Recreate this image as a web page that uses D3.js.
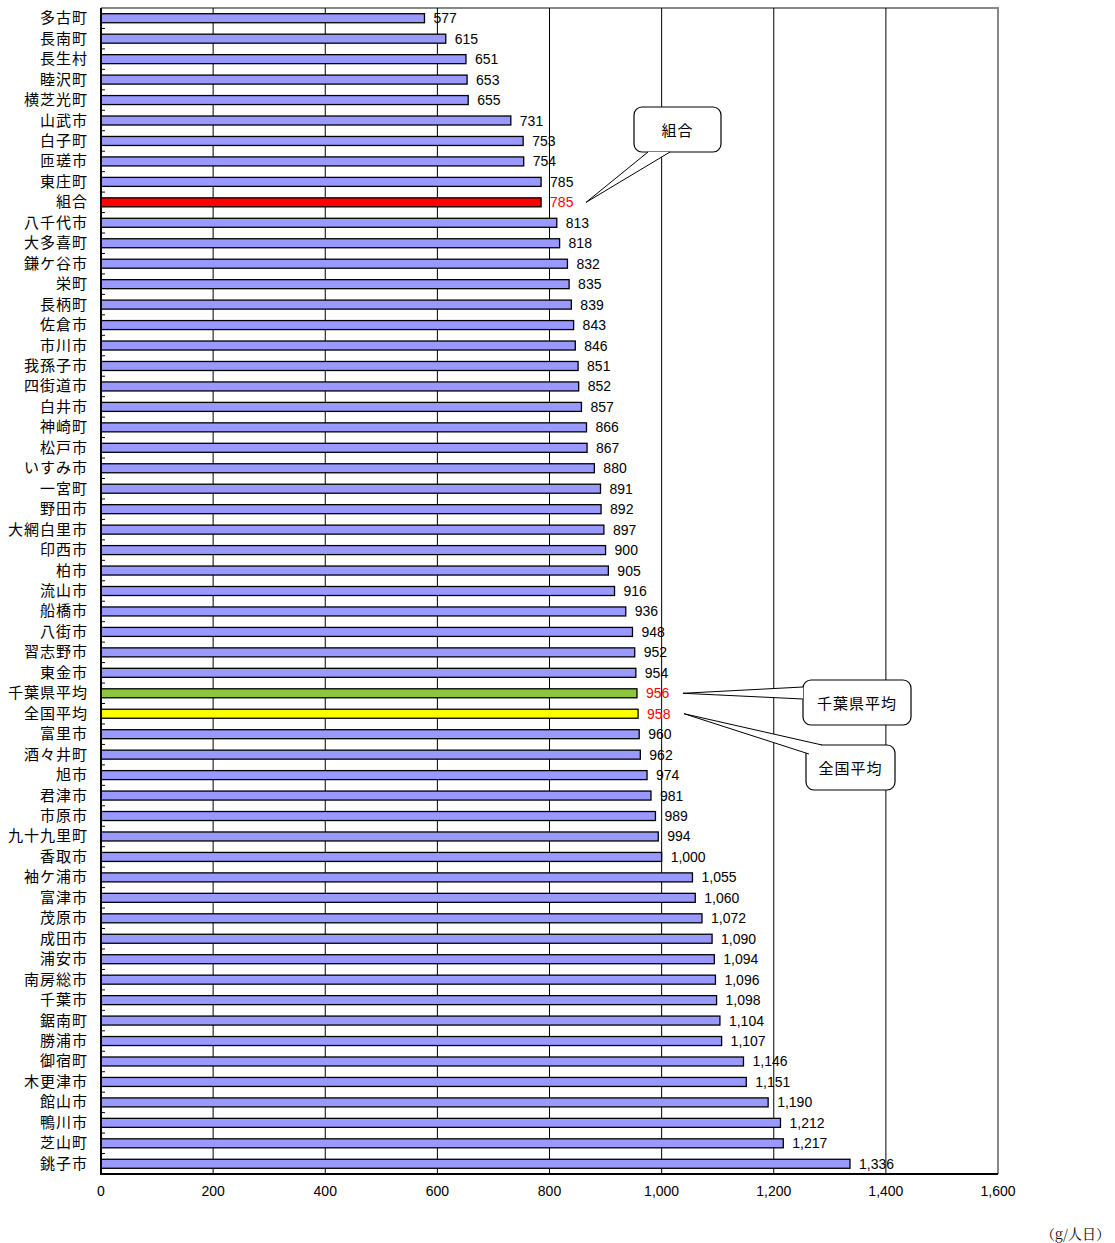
<!DOCTYPE html>
<html lang="ja">
<head>
<meta charset="UTF-8">
<title>1人1日当たりごみ排出量</title>
<style>
  body { margin: 0; background: #fff; }
  svg text { font-family: "Liberation Sans", Arial, sans-serif; }
  .jp { font-family: "Noto Sans CJK JP", sans-serif; letter-spacing: 1px; }
</style>
</head>
<body>
<script src="https://d3js.org/d3.v7.min.js"></script>
<script>
    // data
    const names = ["多古町", "長南町", "長生村", "睦沢町", "横芝光町", "山武市", "白子町", "匝瑳市", "東庄町", "組合",
        "八千代市", "大多喜町", "鎌ケ谷市", "栄町", "長柄町", "佐倉市", "市川市", "我孫子市", "四街道市", "白井市",
        "神崎町", "松戸市", "いすみ市", "一宮町", "野田市", "大網白里市", "印西市", "柏市", "流山市", "船橋市",
        "八街市", "習志野市", "東金市", "千葉県平均", "全国平均", "富里市", "酒々井町", "旭市", "君津市", "市原市",
        "九十九里町", "香取市", "袖ケ浦市", "富津市", "茂原市", "成田市", "浦安市", "南房総市", "千葉市", "鋸南町",
        "勝浦市", "御宿町", "木更津市", "館山市", "鴨川市", "芝山町", "銚子市"];
    const values = [577, 615, 651, 653, 655, 731, 753, 754, 785, 785,
        813, 818, 832, 835, 839, 843, 846, 851, 852, 857,
        866, 867, 880, 891, 892, 897, 900, 905, 916, 936,
        948, 952, 954, 956, 958, 960, 962, 974, 981, 989,
        994, 1000, 1055, 1060, 1072, 1090, 1094, 1096, 1098, 1104,
        1107, 1146, 1151, 1190, 1212, 1217, 1336];
    const xTicks = [0, 200, 400, 600, 800, 1000, 1200, 1400, 1600];
    const highlight = {"組合": "#ff0000", "千葉県平均": "#8cc63f", "全国平均": "#ffff00"};
    const callouts = [
        {name: "組合", text: "組合"},
        {name: "千葉県平均", text: "千葉県平均"},
        {name: "全国平均", text: "全国平均"}
    ];

    const W = 1115, H = 1243;
    const pLeft = 101, pRight = 998, pTop = 8, pBottom = 1174;

    const svg = d3.select("body").append("svg")
        .attr("width", W)
        .attr("height", H);

    const x = d3.scaleLinear().domain([0, 1600]).range([pLeft, pRight]);
    const y = d3.scaleBand().domain(names).range([pTop, pBottom]).paddingInner(0.56).paddingOuter(0.28);

    // frame (top / right grey)
    svg.append("path")
        .attr("d", `M${pLeft},${pTop}H${pRight}V${pBottom}`)
        .attr("fill", "none")
        .attr("stroke", "#888")
        .attr("stroke-width", 2);

    // gridlines
    svg.append("g").selectAll("line")
        .data(xTicks.slice(1, -1))
        .join("line")
        .attr("x1", d => x(d)).attr("x2", d => x(d))
        .attr("y1", pTop).attr("y2", pBottom)
        .attr("stroke", "#000")
        .attr("stroke-width", 1);

    // x axis labels
    svg.append("g").selectAll("text")
        .data(xTicks)
        .join("text")
        .attr("x", d => x(d))
        .attr("y", 1196)
        .attr("text-anchor", "middle")
        .attr("font-size", 14)
        .text(d => d3.format(",")(d));

    // bars
    svg.append("g").selectAll("rect")
        .data(names)
        .join("rect")
        .attr("x", x(0))
        .attr("y", d => y(d))
        .attr("width", (d, i) => x(values[i]) - x(0))
        .attr("height", y.bandwidth())
        .attr("fill", d => highlight[d] || "#9999ff")
        .attr("stroke", "#000")
        .attr("stroke-width", 1.3);

    // value labels
    svg.append("g").selectAll("text")
        .data(names)
        .join("text")
        .attr("x", (d, i) => x(values[i]) + 9)
        .attr("y", d => y(d) + y.bandwidth() / 2 + 5)
        .attr("font-size", 14)
        .attr("fill", d => highlight[d] ? "#ff0000" : "#000")
        .text((d, i) => d3.format(",")(values[i]));

    // category labels
    svg.append("g").selectAll("text")
        .data(names)
        .join("text")
        .attr("class", "jp")
        .attr("x", 88)
        .attr("y", d => y(d) + y.bandwidth() / 2 + 5)
        .attr("text-anchor", "end")
        .attr("font-size", 15)
        .text(d => d);

    // axis lines and category ticks
    const step = y.step();
    svg.append("g").selectAll("line")
        .data(d3.range(1, names.length))
        .join("line")
        .attr("x1", pLeft).attr("x2", pLeft + 4)
        .attr("y1", i => pTop + i * step).attr("y2", i => pTop + i * step)
        .attr("stroke", "#000");
    svg.append("path")
        .attr("d", `M${pLeft},${pTop}V${pBottom}H${pRight}`)
        .attr("fill", "none")
        .attr("stroke", "#000")
        .attr("stroke-width", 2);

    // callouts
    const boxes = {
        "組合": {x: 634, y: 107, w: 87, h: 45, base: [[648, 152], [670, 152]]},
        "千葉県平均": {x: 803, y: 680, w: 108, h: 45, base: [[803, 687], [803, 699]]},
        "全国平均": {x: 806, y: 745, w: 89, h: 45, base: [[809, 754], [822, 745]]}
    };
    callouts.forEach(c => {
        const b = boxes[c.name];
        const i = names.indexOf(c.name);
        const tip = [x(values[i]) + 46, y(c.name) + y.bandwidth() / 2];
        if (c.name === "組合") tip[0] -= 1;
        const g = svg.append("g");
        g.append("rect")
            .attr("x", b.x).attr("y", b.y)
            .attr("width", b.w).attr("height", b.h)
            .attr("rx", 8)
            .attr("fill", "#fff")
            .attr("stroke", "#000")
            .attr("stroke-width", 1.2);
        // wedge opening over the box border
        g.append("path")
            .attr("d", `M${tip[0]},${tip[1]}L${b.base[0][0]},${b.base[0][1]}L${b.base[1][0]},${b.base[1][1]}Z`)
            .attr("fill", "#fff")
            .attr("stroke", "none");
        g.append("path")
            .attr("d", `M${tip[0]},${tip[1]}L${b.base[0][0]},${b.base[0][1]}M${tip[0]},${tip[1]}L${b.base[1][0]},${b.base[1][1]}`)
            .attr("stroke", "#000")
            .attr("fill", "none");
        g.append("text")
            .attr("class", "jp")
            .attr("x", b.x + b.w / 2)
            .attr("y", b.y + b.h / 2 + 6)
            .attr("text-anchor", "middle")
            .attr("font-size", 15)
            .text(c.text);
    });

    // unit
    svg.append("text")
        .attr("x", 1110)
        .attr("y", 1239)
        .attr("text-anchor", "end")
        .attr("font-size", 14)
        .style("font-family", "'Noto Serif CJK JP', 'Noto Sans CJK JP', serif")
        .text("（g/人日）");
</script>
</body>
</html>
